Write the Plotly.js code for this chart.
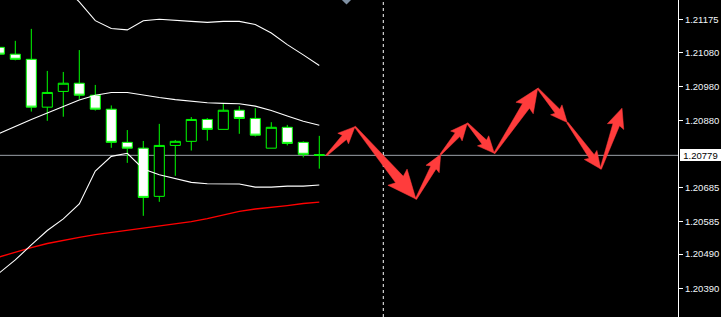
<!DOCTYPE html>
<html><head><meta charset="utf-8">
<script src="https://cdn.plot.ly/plotly-3.0.1.min.js"></script>
<style>html,body{margin:0;padding:0;background:#000;}#chart{width:721px;height:317px;}</style>
</head><body><div id="chart"></div>
<script>
// ---- data (bars, indices 0..20) ----
const barIndex = [0,1,2,3,4,5,6,7,8,9,10,11,12,13,14,15,16,17,18,19,20];
const openP  = [1.21095,1.21075,1.21060,1.20920,1.20966,1.20990,1.20955,1.20914,1.20817,1.20800,1.20659,1.20808,1.20820,1.20884,1.20855,1.20911,1.20887,1.20800,1.20861,1.20817,1.20781];
const highP  = [1.21099,1.21114,1.21149,1.21026,1.21023,1.21087,1.20985,1.20925,1.20853,1.20821,1.20871,1.20824,1.20891,1.20888,1.20930,1.20923,1.20917,1.20876,1.20868,1.20820,1.20836];
const lowP   = [1.21073,1.21057,1.20907,1.20880,1.20892,1.20943,1.20910,1.20801,1.20757,1.20602,1.20643,1.20719,1.20793,1.20822,1.20855,1.20842,1.20834,1.20800,1.20808,1.20773,1.20740];
const closeP = [1.21075,1.21060,1.20920,1.20963,1.20990,1.20955,1.20914,1.20817,1.20800,1.20656,1.20808,1.20820,1.20884,1.20855,1.20911,1.20887,1.20838,1.20861,1.20814,1.20782,1.20779];

const bbUpper  = [1.21380,1.21370,1.21355,1.21320,1.21275,1.21228,1.21173,1.21150,1.21146,1.21173,1.21177,1.21175,1.21171,1.21168,1.21171,1.21171,1.21162,1.21137,1.21103,1.21073,1.21042];
const bbMiddle = [1.20843,1.20864,1.20884,1.20903,1.20923,1.20941,1.20955,1.20963,1.20963,1.20955,1.20948,1.20942,1.20937,1.20933,1.20931,1.20930,1.20923,1.20910,1.20894,1.20879,1.20867];
const bbLower  = [1.20435,1.20473,1.20517,1.20559,1.20593,1.20637,1.20733,1.20776,1.20785,1.20739,1.20722,1.20710,1.20700,1.20696,1.20695,1.20695,1.20686,1.20686,1.20689,1.20689,1.20692];
const maRed    = [1.20482,1.20496,1.20509,1.20521,1.20531,1.20539,1.20547,1.20553,1.20559,1.20565,1.20571,1.20578,1.20585,1.20594,1.20604,1.20615,1.20622,1.20626,1.20632,1.20638,1.20642];

// forecast zig-zag (arrow vertices)
const forecastX = [20.45,22.23,26.04,27.59,29.25,30.94,33.65,35.50,37.59,38.92];
const forecastY = [1.20779,1.20863,1.20651,1.20782,1.20873,1.20785,1.20975,1.20875,1.20739,1.20917];

const futureStartIndex = 24;
const shiftMarkerIndex = 21.7;
const priceTicks = [1.21175,1.21080,1.20980,1.20880,1.20685,1.20585,1.20490,1.20390];
const priceTickText = ['1.21175','1.21080','1.20980','1.20880','1.20685','1.20585','1.20490','1.20390'];

// ---- layout geometry ----
const W = 721, H = 317;
const M = {l:0, r:43, t:0, b:0, pad:0};
const xr = [0.044, 42.42];
const yr = [1.20306, 1.212335];
const pw = W - M.l - M.r, ph = H - M.t - M.b;
const sx = pw / (xr[1] - xr[0]);
const sy = ph / (yr[1] - yr[0]);

function arrowPoly(x0, y0, x1, y1) {
  const px0 = x0 * sx, py0 = y0 * sy, px1 = x1 * sx, py1 = y1 * sy;
  const dx = px1 - px0, dy = py1 - py0, L = Math.hypot(dx, dy);
  const ux = dx / L, uy = dy / L, nx = -uy, ny = ux;
  const hl = Math.max(15, 0.27 * L);
  const hw = 0.47 * hl + 0.5;
  const sw = 0.4 * hw, tw = 0.7;
  const bx = px1 - ux * hl, by = py1 - uy * hl;
  const back = 0.12 * hl;
  const pts = [
    [px0 + nx * tw, py0 + ny * tw],
    [bx + nx * sw, by + ny * sw],
    [bx - ux * back + nx * hw, by - uy * back + ny * hw],
    [px1, py1],
    [bx - ux * back - nx * hw, by - uy * back - ny * hw],
    [bx - nx * sw, by - ny * sw],
    [px0 - nx * tw, py0 - ny * tw],
    [px0 + nx * tw, py0 + ny * tw]
  ];
  return {x: pts.map(p => p[0] / sx), y: pts.map(p => p[1] / sy)};
}

const ax = [], ay = [];
for (let i = 0; i < forecastX.length - 1; i++) {
  const p = arrowPoly(forecastX[i], forecastY[i], forecastX[i+1], forecastY[i+1]);
  ax.push(...p.x, null); ay.push(...p.y, null);
}

const lastClose = closeP[closeP.length - 1];

const traces = [
  {type:'scatter', mode:'lines', x:barIndex, y:maRed, line:{color:'#ff0000', width:1.4}, hoverinfo:'skip'},
  {type:'scatter', mode:'lines', x:barIndex, y:bbUpper, line:{color:'#ffffff', width:1.1}, hoverinfo:'skip'},
  {type:'scatter', mode:'lines', x:barIndex, y:bbMiddle, line:{color:'#ffffff', width:1.1}, hoverinfo:'skip'},
  {type:'scatter', mode:'lines', x:barIndex, y:bbLower, line:{color:'#ffffff', width:1.1}, hoverinfo:'skip'},
  {type:'candlestick', x:barIndex, open:openP, high:highP, low:lowP, close:closeP,
   increasing:{line:{color:'#00ff00', width:1}, fillcolor:'#000000'},
   decreasing:{line:{color:'#00ff00', width:1}, fillcolor:'#ffffff'},
   whiskerwidth:0, hoverinfo:'skip'},
  {type:'scatter', mode:'lines', x:ax, y:ay, fill:'toself', fillcolor:'#ff3c3c',
   line:{color:'#ff3c3c', width:0.5}, hoverinfo:'skip'},
  {type:'scatter', mode:'markers', x:[shiftMarkerIndex], y:[yr[1]], cliponaxis:true,
   marker:{symbol:'diamond', size:7, color:'#7f90a3'}, hoverinfo:'skip'}
];

const layout = {
  width:W, height:H, margin:M,
  paper_bgcolor:'#000000', plot_bgcolor:'#000000',
  showlegend:false, boxgap:0.1, boxgroupgap:0.3,
  xaxis:{range:xr, visible:false, showgrid:false, zeroline:false, rangeslider:{visible:false}, fixedrange:true},
  yaxis:{range:yr, side:'right', tickmode:'array', tickvals:priceTicks, ticktext:priceTickText,
         ticks:'outside', ticklen:4, tickcolor:'#ffffff', tickwidth:1,
         showline:true, linecolor:'#ffffff', linewidth:1, showgrid:false, zeroline:false,
         tickfont:{family:'Liberation Sans, Arial, sans-serif', size:9.5, color:'#f2f6fa'}, fixedrange:true},
  shapes:[
    {type:'line', xref:'paper', x0:0, x1:1, yref:'y', y0:lastClose, y1:lastClose,
     line:{color:'#9aa0a8', width:1}, layer:'below'},
    {type:'line', xref:'x', x0:futureStartIndex, x1:futureStartIndex, yref:'paper', y0:0, y1:1,
     line:{color:'#ffffff', width:1, dash:'3px,3px'}, layer:'below'}
  ],
  annotations:[
    {xref:'paper', x:1, xanchor:'left', xshift:2, yref:'y', y:lastClose, yanchor:'middle',
     text:lastClose.toFixed(5), showarrow:false, bgcolor:'#ffffff', borderwidth:0, borderpad:1,
     width:39, height:10, align:'center',
     font:{family:'Liberation Sans, Arial, sans-serif', size:9.5, color:'#000000'}}
  ]
};

Plotly.newPlot('chart', traces, layout, {staticPlot:true, displayModeBar:false});
</script>
</body></html>
